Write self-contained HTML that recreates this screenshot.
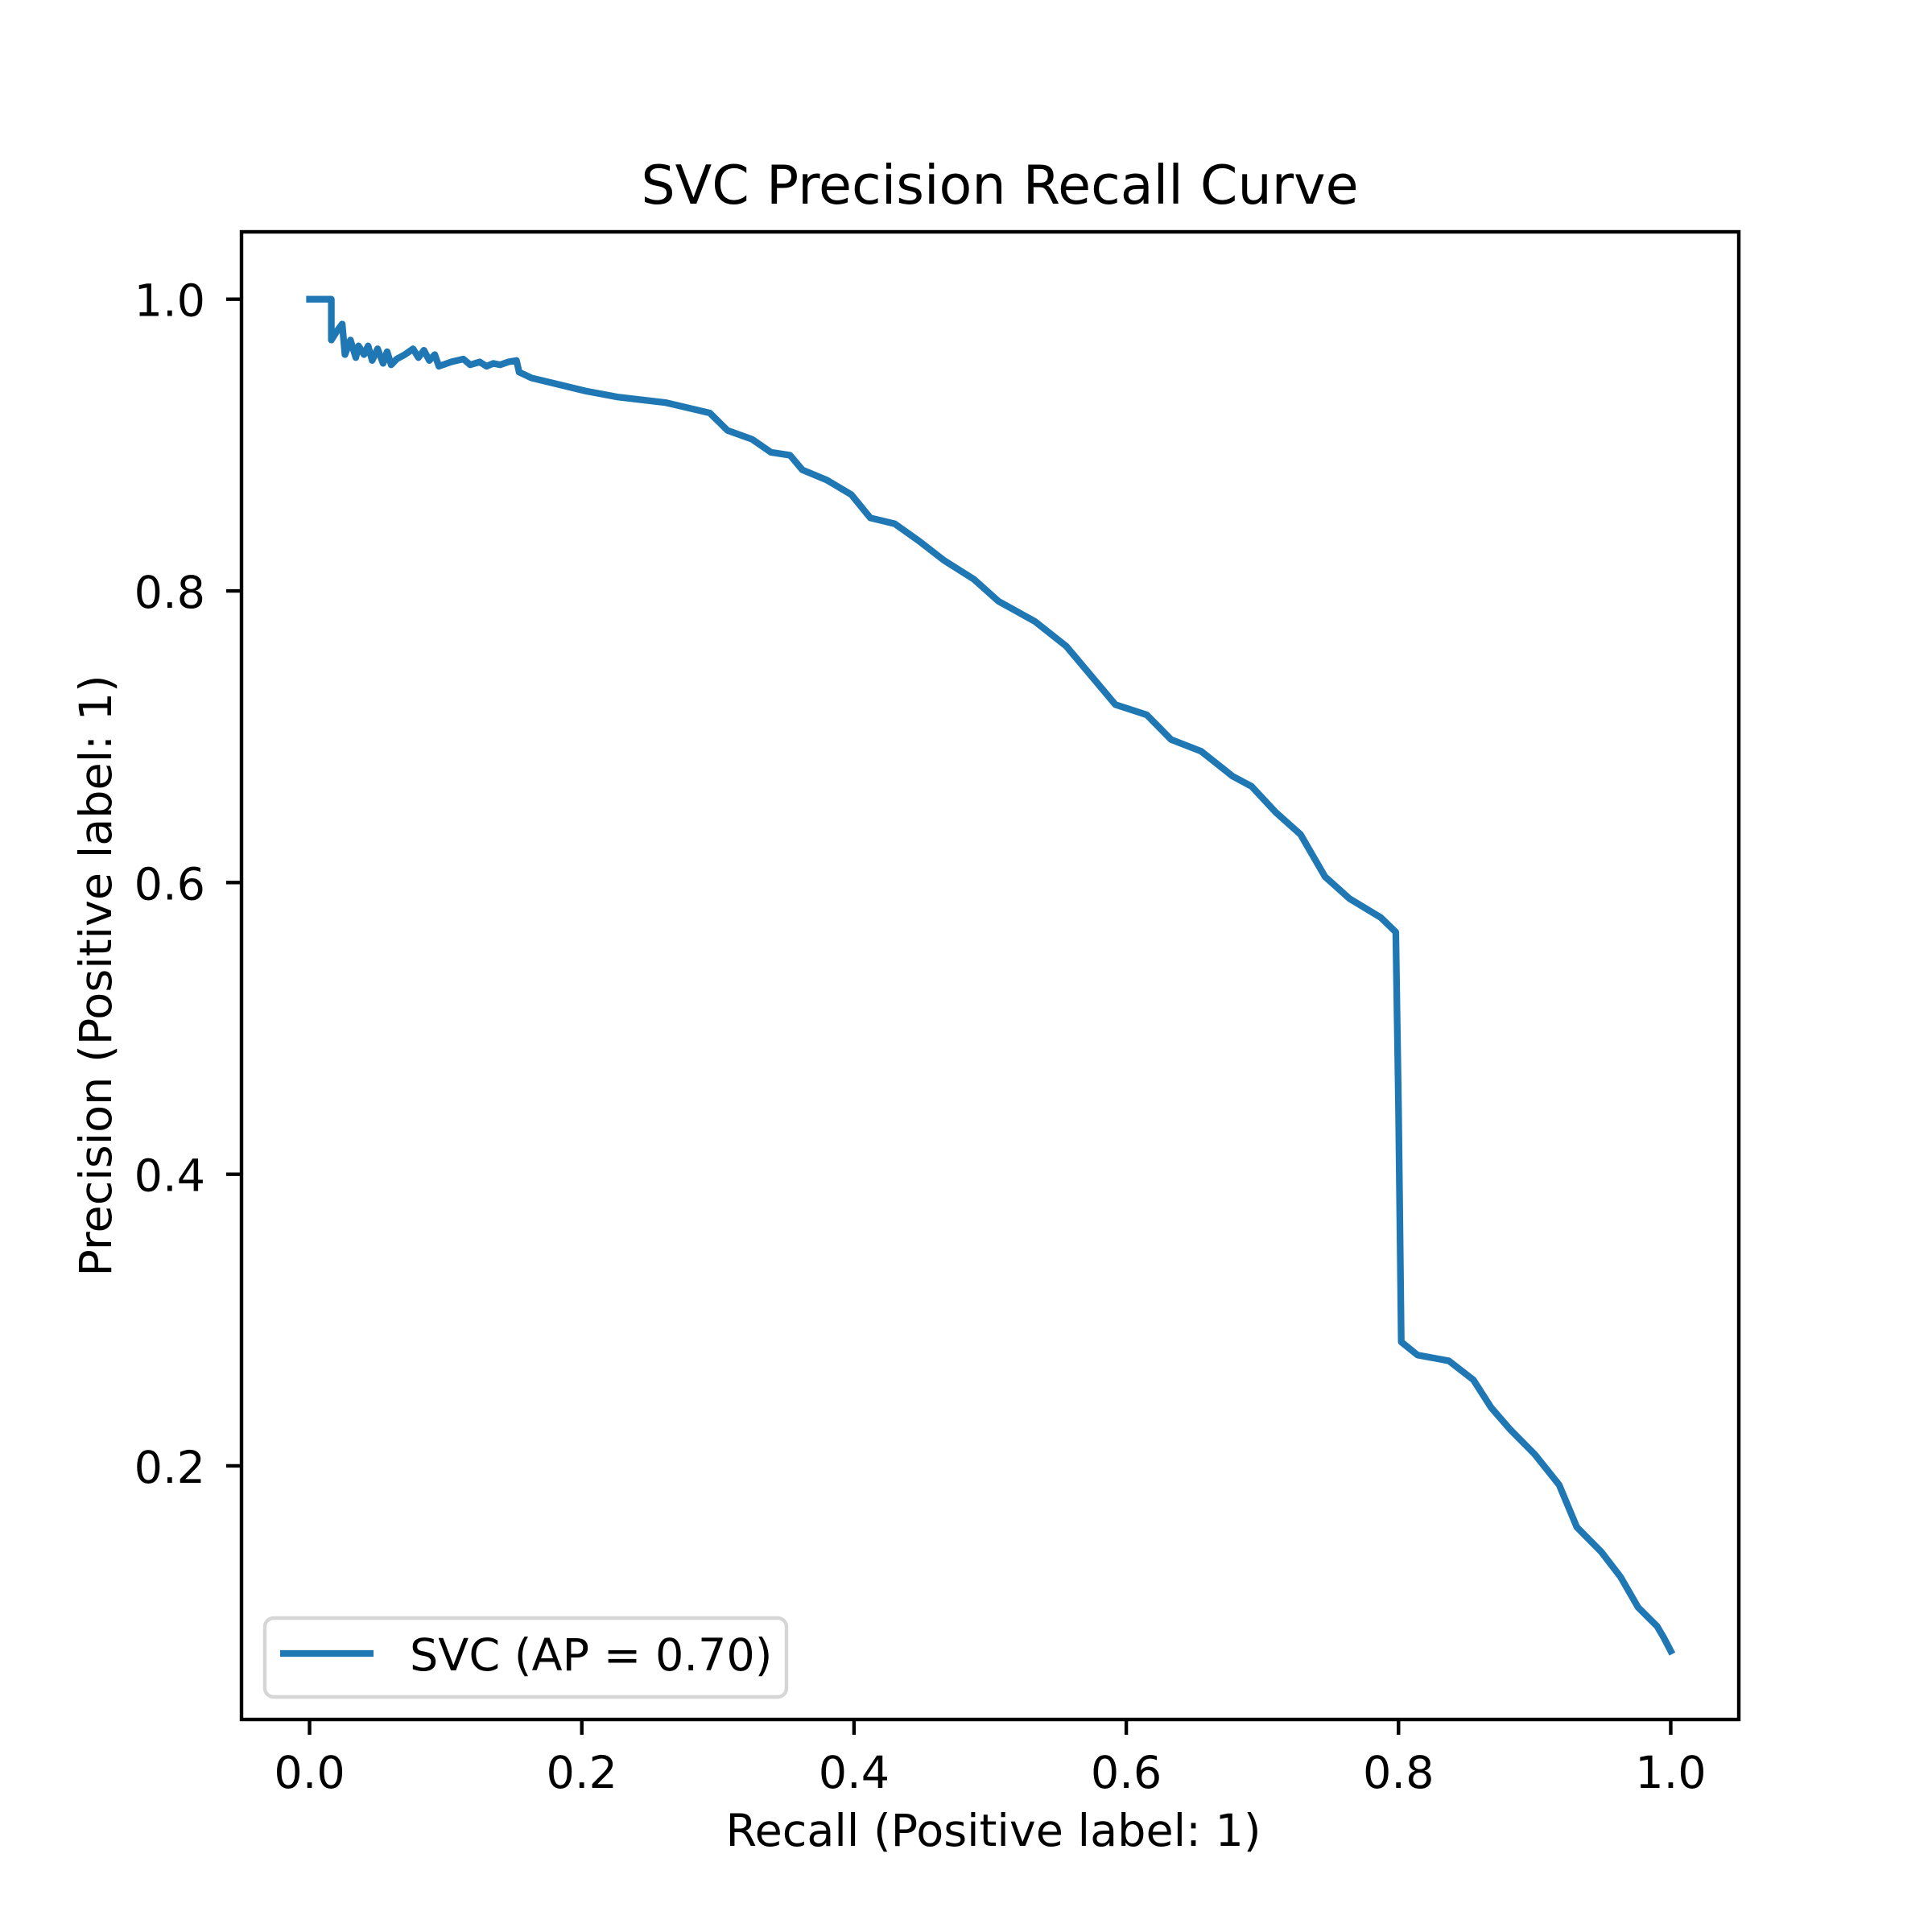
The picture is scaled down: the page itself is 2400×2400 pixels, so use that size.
<!DOCTYPE html>
<html><head><meta charset="utf-8"><style>
html,body{margin:0;padding:0;background:#fff}
svg{display:block}
text{font-family:"DejaVu Sans","Liberation Sans",sans-serif;fill:#000}
</style></head><body>
<svg id="chart" width="2400" height="2400" viewBox="0 0 2400 2400" xmlns="http://www.w3.org/2000/svg">
<rect width="2400" height="2400" fill="#fff"/>
<text x="1242" y="253" font-size="66.7" text-anchor="middle">SVC Precision Recall Curve</text>
<g id="ticks"></g>
<path id="curve" fill="none" stroke="#1f77b4" stroke-width="8.3" stroke-linejoin="round" stroke-linecap="square"/>
<rect x="300" y="288" width="1860" height="1848" fill="none" stroke="#000" stroke-width="4.4"/>
<text x="1234" y="2293" font-size="55.6" text-anchor="middle">Recall (Positive label: 1)</text>
<text transform="translate(138,1212) rotate(-90)" font-size="55.6" text-anchor="middle">Precision (Positive label: 1)</text>
<g>
<rect x="329" y="2010" width="648" height="98" rx="11" fill="#fff" fill-opacity="0.8" stroke="#d6d6d6" stroke-width="4.4"/>
<line x1="348" y1="2054" x2="464" y2="2054" stroke="#1f77b4" stroke-width="8.3"/>
<text x="509" y="2075" font-size="55.6">SVC (AP = 0.70)</text>
</g>
</svg>
<script>
const recall = [0,0.016,0.016,0.020,0.024,0.026,0.030,0.034,0.036,0.040,0.043,0.046,0.050,0.054,0.057,0.060,0.064,0.070,0.076,0.080,0.084,0.088,0.092,0.095,0.104,0.113,0.118,0.125,0.130,0.135,0.140,0.146,0.152,0.154,0.163,0.181,0.203,0.226,0.262,0.294,0.307,0.325,0.339,0.353,0.362,0.380,0.398,0.412,0.430,0.448,0.466,0.488,0.506,0.533,0.556,0.574,0.592,0.615,0.633,0.655,0.678,0.692,0.710,0.728,0.746,0.764,0.787,0.798,0.800,0.802,0.814,0.837,0.855,0.868,0.882,0.900,0.918,0.931,0.949,0.963,0.976,0.990,0.995,1.0];
const precision = [1.0,1.0,0.972,0.978,0.983,0.962,0.972,0.960,0.968,0.962,0.968,0.958,0.966,0.956,0.964,0.955,0.959,0.962,0.966,0.960,0.965,0.958,0.962,0.954,0.957,0.959,0.955,0.957,0.954,0.956,0.955,0.957,0.958,0.950,0.946,0.942,0.937,0.933,0.929,0.922,0.910,0.904,0.895,0.893,0.883,0.876,0.866,0.850,0.846,0.834,0.821,0.808,0.793,0.779,0.762,0.742,0.722,0.715,0.698,0.690,0.673,0.666,0.648,0.633,0.604,0.589,0.576,0.566,0.445,0.285,0.276,0.272,0.259,0.240,0.225,0.208,0.187,0.158,0.141,0.124,0.103,0.090,0.082,0.073];
const xTicks = [0.0,0.2,0.4,0.6,0.8,1.0];
const yTicks = [0.2,0.4,0.6,0.8,1.0];
const X0=300,X1=2160,Y0=2136,Y1=288,XMIN=-0.05,XMAX=1.05,YMIN=0.0261,YMAX=1.0462;
function xs(v){return X0+(v-XMIN)/(XMAX-XMIN)*(X1-X0);}
function ys(v){return Y0-(v-YMIN)/(YMAX-YMIN)*(Y0-Y1);}
const NS="http://www.w3.org/2000/svg";
let d="";
for(let i=0;i<recall.length;i++){d+=(i?"L":"M")+xs(recall[i]).toFixed(1)+","+ys(precision[i]).toFixed(1);}
document.getElementById("curve").setAttribute("d",d);
const g=document.getElementById("ticks");
xTicks.forEach(v=>{
  const l=document.createElementNS(NS,"line");
  
  
  l.setAttribute("x1",xs(v));l.setAttribute("x2",xs(v));l.setAttribute("y1",Y0);l.setAttribute("y2",Y0+19);
  l.setAttribute("stroke","#000");l.setAttribute("stroke-width","4.4");g.appendChild(l);
  const t=document.createElementNS(NS,"text");
  
  
  t.setAttribute("x",xs(v));t.setAttribute("y",Y0+85);t.setAttribute("font-size","55.6");t.setAttribute("text-anchor","middle");
  t.textContent=v.toFixed(1);g.appendChild(t);
});
yTicks.forEach(v=>{
  const l=document.createElementNS(NS,"line");
  
  
  l.setAttribute("x1",X0-19);l.setAttribute("x2",X0);l.setAttribute("y1",ys(v));l.setAttribute("y2",ys(v));
  l.setAttribute("stroke","#000");l.setAttribute("stroke-width","4.4");g.appendChild(l);
  const t=document.createElementNS(NS,"text");
  
  
  t.setAttribute("x",X0-45);t.setAttribute("y",ys(v)+21);t.setAttribute("font-size","55.6");t.setAttribute("text-anchor","end");
  t.textContent=v.toFixed(1);g.appendChild(t);
});
</script>
</body></html>
